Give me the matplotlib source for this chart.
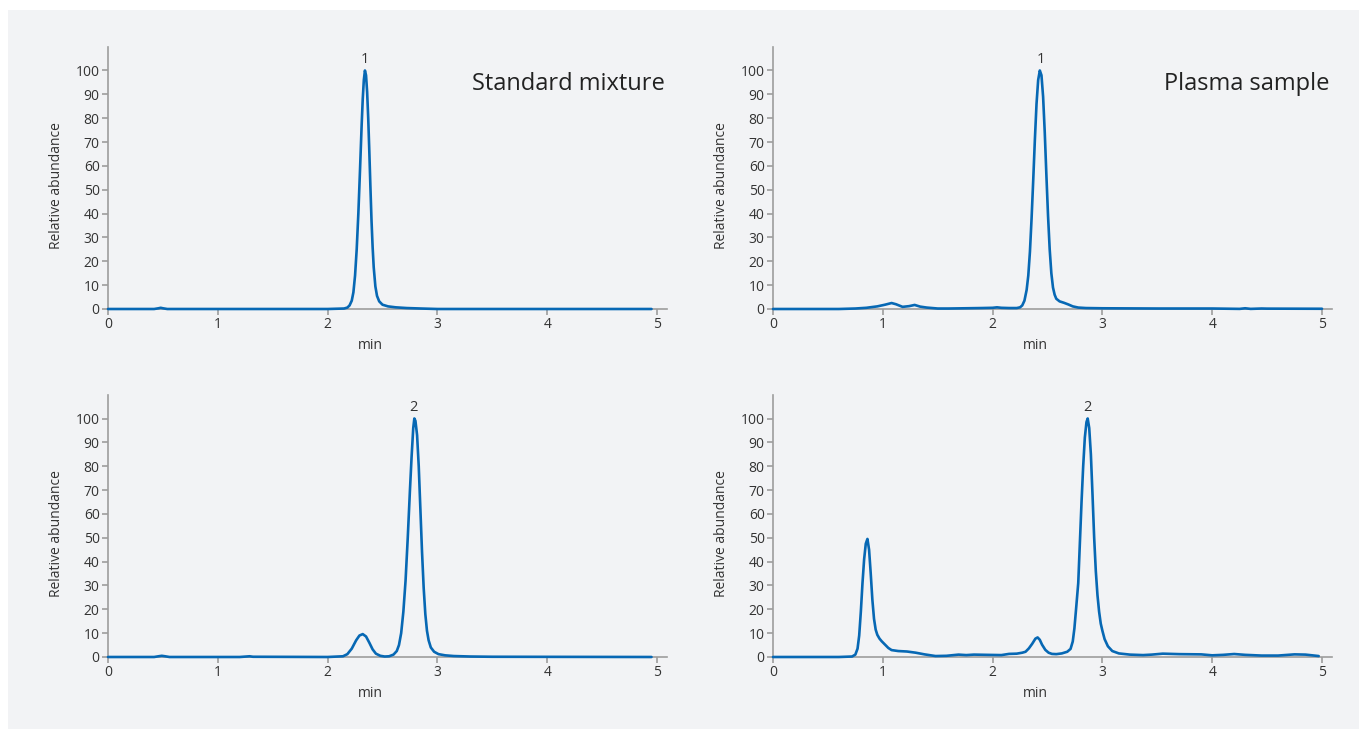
import matplotlib
matplotlib.use('Agg')
from matplotlib import pyplot as plt
from matplotlib.patches import Rectangle

# chromatogram traces (time in min, relative abundance)
std1_t = [0, 0.42, 0.46, 0.48, 0.50, 0.54, 1.0, 2.0, 2.15, 2.18, 2.20, 2.22, 2.235, 2.25, 2.265,
          2.28, 2.295, 2.31, 2.32, 2.33, 2.34, 2.35, 2.36, 2.37, 2.38, 2.39, 2.40, 2.41, 2.42,
          2.435, 2.45, 2.47, 2.50, 2.55, 2.62, 2.72, 2.85, 3.0, 4.95]
std1_y = [0, 0, 0.3, 0.5, 0.3, 0, 0, 0, 0.2, 0.6, 1.5, 3.5, 7, 14, 25,
          40, 58, 77, 88, 96, 100, 98, 91, 80, 66, 51, 37, 26, 17.5,
          9.5, 5.5, 3.2, 1.8, 1.1, 0.7, 0.4, 0.2, 0, 0]

pl1_t = [0, 0.6, 0.75, 0.85, 0.95, 1.02, 1.08, 1.12, 1.18, 1.24, 1.29, 1.34, 1.40, 1.5, 1.6, 1.75,
         1.9, 2.0, 2.04, 2.08, 2.15, 2.22, 2.25, 2.27, 2.29, 2.31, 2.325, 2.34, 2.355, 2.37, 2.385,
         2.40, 2.415, 2.43, 2.445, 2.46, 2.475, 2.49, 2.505, 2.52, 2.535, 2.55, 2.565, 2.58, 2.61,
         2.65, 2.69, 2.73, 2.78, 2.85, 3.0, 3.5, 4.0, 4.25, 4.3, 4.35, 4.45, 4.5, 5.0]
pl1_y = [0, 0, 0.2, 0.5, 1.1, 1.8, 2.5, 2.0, 0.9, 1.2, 1.7, 1.0, 0.6, 0.2, 0.2, 0.3,
         0.4, 0.5, 0.7, 0.5, 0.4, 0.4, 0.7, 1.5, 3.5, 8, 14, 24, 38, 54, 71,
         86, 96, 100, 98, 89, 74, 56, 39, 25, 15, 9, 6, 4.3, 3.2,
         2.6, 1.9, 1.1, 0.6, 0.4, 0.3, 0.2, 0.2, 0.05, 0.3, 0.05, 0.2, 0.15, 0.1]

std2_t = [0, 0.42, 0.46, 0.49, 0.52, 0.56, 1.2, 1.26, 1.29, 1.32, 2.0, 2.14, 2.18, 2.22, 2.26,
          2.29, 2.32, 2.35, 2.38, 2.41, 2.44, 2.48, 2.52, 2.56, 2.60, 2.63, 2.65, 2.67, 2.69,
          2.71, 2.73, 2.75, 2.765, 2.78, 2.79, 2.80, 2.815, 2.83, 2.845, 2.86, 2.875, 2.89, 2.905,
          2.92, 2.94, 2.97, 3.01, 3.07, 3.15, 3.3, 3.5, 4.95]
std2_y = [0, 0, 0.3, 0.5, 0.3, 0, 0, 0.2, 0.3, 0.1, 0, 0.3, 1.2, 3.5, 7,
          9, 9.6, 8.6, 6, 3.2, 1.4, 0.5, 0.2, 0.3, 1.0, 2.5, 5, 10, 19,
          32, 50, 70, 84, 96, 100, 99, 93, 80, 62, 44, 29, 18, 11,
          7, 4, 2.2, 1.2, 0.7, 0.4, 0.2, 0.1, 0]

pl2_t = [0, 0.6, 0.72, 0.75, 0.77, 0.785, 0.80, 0.815, 0.83, 0.845, 0.86, 0.875, 0.89, 0.905,
         0.92, 0.935, 0.95, 0.97, 0.99, 1.02, 1.05, 1.08, 1.14, 1.22, 1.3, 1.38, 1.48, 1.58, 1.69,
         1.76, 1.83, 1.95, 2.08, 2.15, 2.22, 2.27, 2.30, 2.33, 2.36, 2.39, 2.41, 2.43, 2.45, 2.48,
         2.51, 2.54, 2.58, 2.63, 2.68, 2.71, 2.73, 2.745, 2.76, 2.78, 2.795, 2.81, 2.825, 2.84,
         2.855, 2.866, 2.88, 2.895, 2.91, 2.925, 2.94, 2.955, 2.97, 2.985, 3.00, 3.02, 3.05, 3.09,
         3.15, 3.25, 3.37, 3.45, 3.55, 3.7, 3.9, 4.0, 4.1, 4.2, 4.3, 4.45, 4.6, 4.75, 4.85, 4.97]
pl2_y = [0, 0, 0.2, 1, 3.5, 9, 19, 31, 41, 47.5, 49.5, 45, 35, 24,
         16, 11.5, 9.3, 7.7, 6.6, 5.2, 3.8, 2.9, 2.5, 2.3, 1.8, 1.1, 0.4, 0.5, 1.0,
         0.8, 1.0, 0.9, 0.8, 1.3, 1.4, 1.8, 2.2, 3.6, 5.5, 7.7, 8.2, 7.2, 5.2, 3,
         1.8, 1.3, 1.2, 1.5, 2.2, 3.4, 6.5, 12, 20, 31, 48, 65, 80, 92,
         98.5, 100, 96, 85, 68, 50, 36, 26, 19, 14, 11, 7.5, 4.5, 2.5,
         1.5, 1.0, 0.8, 1.0, 1.4, 1.2, 1.1, 0.7, 0.9, 1.25, 0.9, 0.6, 0.6, 1.1, 1.0, 0.4]

panels = [
    # (trace t, trace y, peak label, label position, title)
    (std1_t, std1_y, '1', 2.335, 'Standard mixture'),
    (pl1_t, pl1_y, '1', 2.435, 'Plasma sample'),
    (std2_t, std2_y, '2', 2.785, None),
    (pl2_t, pl2_y, '2', 2.865, None),
]

plt.rcParams['font.family'] = ['Open Sans', 'DejaVu Sans']
lineColor = '#0768b4'
axisColor = '#9d9d9d'
textColor = '#333333'
W, H = 1359, 729

fig = plt.figure(figsize=(W / 100, H / 100), dpi=100, facecolor='white')
fig.patches.append(Rectangle((8 / W, 0), 1 - 8 / W, 1 - 10 / H, transform=fig.transFigure,
                             facecolor='#f2f3f5', edgecolor='none', zorder=-10))

# axes boxes in pixels: left, x-axis baseline (from top)
boxes = [(108, 309), (773, 309), (108, 657), (773, 657)]
pxPerMin = 109.8
pxPerUnit = 2.385

for (t, y, pk, pkx, title), (left, base) in zip(panels, boxes):
    w = 5.09 * pxPerMin
    h = 110 * pxPerUnit
    ax = fig.add_axes([left / W, (H - base) / H, w / W, h / H])
    ax.patch.set_alpha(0)
    ax.plot(t, y, color=lineColor, linewidth=1.9, zorder=3, clip_on=False,
            solid_joinstyle='round', solid_capstyle='round')
    ax.set_xlim(0, 5.09)
    ax.set_ylim(0, 110)
    ax.set_xticks(range(6))
    ax.set_yticks(range(0, 101, 10))
    for s in ['top', 'right']:
        ax.spines[s].set_visible(False)
    for s in ['left', 'bottom']:
        ax.spines[s].set_color(axisColor)
        ax.spines[s].set_linewidth(1.2)
    ax.tick_params(direction='out', length=4, width=1.2, color=axisColor,
                   labelsize=10, labelcolor=textColor, pad=2)
    ax.set_xlabel('min', fontsize=10, color=textColor)
    ax.xaxis.set_label_coords(0.47, -0.11)
    ax.set_ylabel('Relative abundance', fontsize=10, color=textColor)
    ax.yaxis.set_label_coords(-0.078, 0.47)
    ax.text(pkx, 103, pk, ha='center', va='baseline', fontsize=10.5, color=textColor)
    if title:
        ax.text(5.07, 91.9, title, ha='right', va='baseline', fontsize=17, color='#222222')

plt.savefig('out.png', dpi=100)
